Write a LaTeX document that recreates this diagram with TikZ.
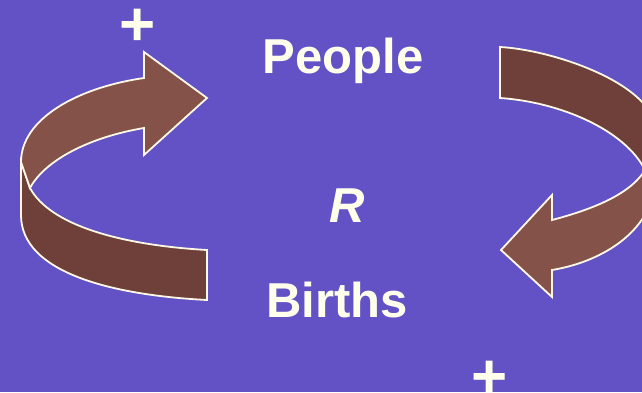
\documentclass[tikz,border=0pt]{standalone}
\usepackage{fontspec}
\setmainfont{Liberation Sans}
\definecolor{mypurple}{RGB}{99,82,198}
\definecolor{mybrown}{HTML}{85524A}
\definecolor{mydarkbrown}{HTML}{6E4039}
\definecolor{myivory}{HTML}{FFFFEC}
\definecolor{myoutline}{HTML}{FFF8E4}
\usetikzlibrary{positioning}
\tikzset{
	bigwhitetext/.style={font=\fontsize{49}{50}\selectfont\bfseries, text=myivory, inner sep=0pt}
}
\tikzset{
	plustext/.style={font=\fontsize{62}{64}\selectfont\bfseries, text=myivory, inner sep=0pt}
}
\tikzset{
	lightface/.style={fill=mybrown, draw=myoutline, line width=1.8pt},
	darkface/.style={fill=mydarkbrown, draw=myoutline, line width=1.8pt}
}

\begin{document}
\begin{tikzpicture}[x=1pt, y=-1pt]
      \useasboundingbox (0,0) rectangle (642,392);
      \fill[mypurple] (0,0) rectangle (642,392);
      \clip (0,0) rectangle (642,392);

      % left arrow: back face (tail end)
      \filldraw[darkface] (21,162) -- (21,215) .. controls (21,272) and (110,295) .. (207,300)
        -- (207,250) .. controls (120,245) and (50,225) .. (30,188) -- cycle;
      % left arrow: front face with head
      \filldraw[lightface] (21,162) .. controls (21,120) and (75,88) .. (144,78)
        -- (144,52) -- (207,98) -- (144,155) -- (144,128)
        .. controls (90,137) and (45,160) .. (30,188) -- cycle;

      % right arrow: back face (tail end), runs off the right edge
      \filldraw[darkface] (500,47) .. controls (555,50) and (655,85) .. (655,130)
        -- (655,190) -- (645,170) .. controls (625,130) and (560,102) .. (500,98) -- cycle;
      % right arrow: front face with head
      \filldraw[lightface] (655,190) .. controls (645,235) and (600,262) .. (552,270)
        -- (552,297) -- (501,250) -- (552,195) -- (552,220)
        .. controls (590,210) and (630,195) .. (645,170) -- cycle;

      % labels
      \node[bigwhitetext, anchor=base] (people) at (343,73) {People};
      \node[bigwhitetext, anchor=base] (loop) at (347,222) {\itshape R};
      \node[bigwhitetext, anchor=base] (births) at (337,317) {Births};
      \node[plustext, anchor=base] (plustop) at (138,45) {+};
      \node[plustext, anchor=base] (plusbottom) at (490,397) {+};
    \end{tikzpicture}
\end{document}
